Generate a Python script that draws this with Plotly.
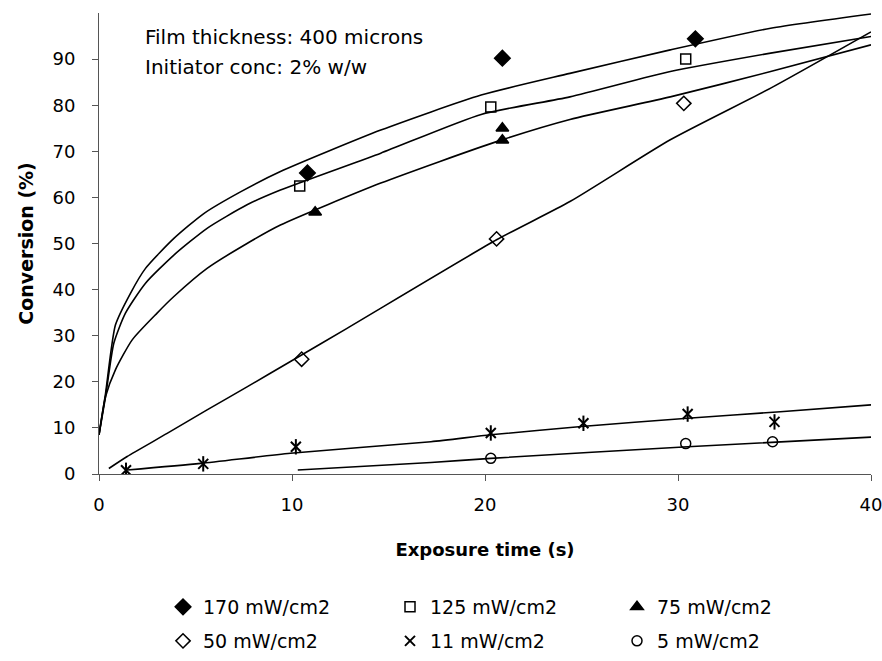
import plotly.graph_objects as go

# ---- measured points ----
t170 = [10.8, 20.9, 30.9]
c170 = [65.3, 90.2, 94.4]
t125 = [10.4, 20.3, 30.4]
c125 = [62.5, 79.6, 90.0]
t75 = [11.2, 20.9, 20.9]
c75 = [56.8, 75.0, 72.4]
t50 = [10.5, 20.6, 30.3]
c50 = [24.9, 51.0, 80.4]
t11 = [1.4, 5.4, 10.2, 20.3, 25.1, 30.5, 35.0]
c11 = [0.8, 2.2, 5.9, 8.9, 11.0, 13.0, 11.3]
t5 = [20.3, 30.4, 34.9]
c5 = [3.4, 6.6, 7.0]

# ---- fitted curves ----
fx170 = [0, 0.34, 0.85, 1.63, 2.41, 3.88, 5.43, 7.33, 9.4, 14.6, 19.8, 24.4, 29.6, 34.8, 40]
fy170 = [8.5, 17.5, 32.3, 39.2, 44.6, 51.1, 56.5, 61.2, 65.6, 74.6, 82.2, 86.9, 92.0, 96.7, 99.8]
fx125 = [0, 0.34, 0.77, 1.37, 2.41, 3.88, 5.6, 7.67, 9.4, 14.6, 19.8, 24.4, 29.6, 34.8, 40]
fy125 = [8.5, 16.8, 28.4, 34.9, 41.4, 47.5, 53.3, 58.4, 61.6, 69.6, 78.0, 81.8, 87.3, 91.3, 94.9]
fx75 = [0, 0.34, 0.85, 1.72, 3.01, 3.88, 5.6, 7.67, 9.4, 14.6, 20.6, 24.4, 29.6, 34.8, 40]
fy75 = [8.5, 16.8, 22.6, 29.1, 34.9, 38.5, 44.6, 50.0, 54.0, 63.1, 72.1, 76.9, 81.8, 87.3, 93.1]
fx50 = [0.51, 1.46, 3.53, 5.6, 7.67, 9.92, 12.85, 20.6, 24.4, 29.6, 34.8, 40]
fy50 = [1.2, 3.8, 8.8, 13.9, 18.9, 24.4, 31.6, 50.8, 59.1, 72.5, 83.7, 95.9]
fx11 = [1.46, 5.26, 9.92, 17.2, 20.3, 25.0, 30.5, 35.3, 40]
fy11 = [0.87, 2.3, 4.5, 7.0, 8.5, 10.3, 12.1, 13.5, 15.0]
fx5 = [10.3, 17.2, 20.3, 30.5, 40]
fy5 = [0.87, 2.5, 3.4, 5.9, 8.0]

labels = ["170 mW/cm2", "125 mW/cm2", "75 mW/cm2", "50 mW/cm2", "11 mW/cm2", "5 mW/cm2"]
xticks = [0, 10, 20, 30, 40]
yticks = [0, 10, 20, 30, 40, 50, 60, 70, 80, 90]

FONT = "DejaVu Sans, Liberation Sans, Arial, sans-serif"
fig = go.Figure()

for fx, fy in [(fx170, fy170), (fx125, fy125), (fx75, fy75), (fx50, fy50), (fx11, fy11), (fx5, fy5)]:
    fig.add_trace(go.Scatter(x=fx, y=fy, mode="lines",
                             line=dict(color="black", width=1.6, shape="spline", smoothing=0.6),
                             showlegend=False, hoverinfo="skip"))

def mk(x, y, name, symbol, size, legend, lw=1.5):
    fig.add_trace(go.Scatter(x=x, y=y, mode="markers", name=name, legend=legend,
                             marker=dict(symbol=symbol, size=size, color="black",
                                         line=dict(color="black", width=lw))))

mk(t170, c170, labels[0], "diamond", 12, "legend")
mk(t125, c125, labels[1], "square-open", 10, "legend")
mk(t75, c75, labels[2], "triangle-up", 11, "legend")
mk(t50, c50, labels[3], "diamond-open", 11, "legend2")
mk(t11, c11, labels[4], "x-thin-open", 10, "legend2", lw=2)
mk(t5, c5, labels[5], "circle-open", 10, "legend2")
# vertical stroke of the asterisk marker
fig.add_trace(go.Scatter(x=t11, y=c11, mode="markers", showlegend=False, hoverinfo="skip",
                         marker=dict(symbol="line-ns-open", size=11, color="black",
                                     line=dict(color="black", width=2))))

fig.add_annotation(text="Film thickness: 400 microns", xref="x", yref="y", x=2.3, y=94.9,
                   xanchor="left", yanchor="middle", showarrow=False,
                   font=dict(size=20, family=FONT, color="black"))
fig.add_annotation(text="Initiator conc: 2% w/w", xref="x", yref="y", x=2.3, y=88.2,
                   xanchor="left", yanchor="middle", showarrow=False,
                   font=dict(size=20, family=FONT, color="black"))

legend_common = dict(orientation="h", xref="container", yref="container", xanchor="left", yanchor="middle",
                     entrywidth=182, entrywidthmode="pixels", font=dict(size=19, family=FONT, color="black"),
                     bgcolor="rgba(0,0,0,0)", itemwidth=30)

fig.update_layout(
    width=882, height=661,
    margin=dict(l=99, r=11, t=13, b=187),
    paper_bgcolor="white", plot_bgcolor="white",
    font=dict(family=FONT, size=18, color="black"),
    legend=dict(x=163 / 882, y=1 - 607 / 661, **legend_common),
    legend2=dict(x=163 / 882, y=1 - 641 / 661, **legend_common),
    xaxis=dict(range=[0, 40], tickvals=xticks, showgrid=False, zeroline=False, showline=True,
               linecolor="#555", linewidth=1, ticks="outside", ticklen=6, tickcolor="#555",
               tickfont=dict(size=18), ticklabelstandoff=8, automargin=False,
               ticklabeloverflow="allow",
               title=dict(text="<b>Exposure time (s)</b>", font=dict(size=18), standoff=29)),
    yaxis=dict(range=[0, 100], tickvals=yticks, showgrid=False, zeroline=False, showline=True,
               linecolor="#555", linewidth=1, ticks="outside", ticklen=6, tickcolor="#555",
               tickfont=dict(size=18), ticklabelstandoff=13, automargin=False,
               ticklabeloverflow="allow",
               title=dict(text="<b>Conversion (%)</b>", font=dict(size=19), standoff=13)),
)

fig.write_html("out.html")
